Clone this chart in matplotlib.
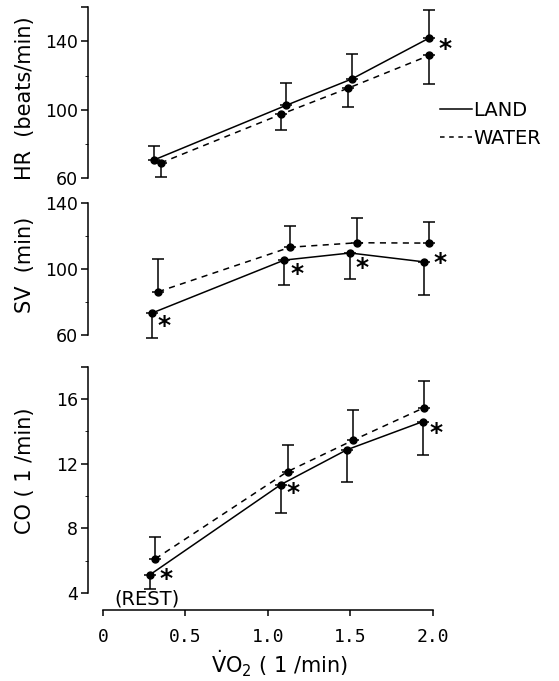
import matplotlib
matplotlib.use('Agg')
import matplotlib.pyplot as plt
from matplotlib.lines import Line2D

plt.rcParams['font.family'] = ['DejaVu Sans']

# heart rate panel
vo2_hr_land = [0.31, 1.11, 1.51, 1.98]
hr_land = [70.6, 102.5, 118.0, 142.0]
hr_land_sd = [7.9, 12.9, 14.4, 16.5]
vo2_hr_water = [0.35, 1.08, 1.49, 1.98]
hr_water = [68.8, 97.3, 112.7, 131.8]
hr_water_sd = [8.4, 9.2, 11.3, 16.8]

# stroke volume panel
vo2_sv_land = [0.30, 1.10, 1.50, 1.95]
sv_land = [73.4, 105.4, 109.7, 104.3]
sv_land_sd = [15.3, 15.3, 15.9, 19.8]
vo2_sv_water = [0.335, 1.136, 1.542, 1.98]
sv_water = [86.2, 113.2, 115.9, 115.7]
sv_water_sd = [19.8, 13.0, 15.1, 12.9]

# cardiac output panel
vo2_co_land = [0.285, 1.08, 1.48, 1.94]
co_land = [5.13, 10.71, 12.86, 14.60]
co_land_sd = [0.88, 1.79, 1.97, 2.05]
vo2_co_water = [0.317, 1.12, 1.52, 1.95]
co_water = [6.11, 11.51, 13.46, 15.47]
co_water_sd = [1.38, 1.66, 1.84, 1.62]

x_ticks = [0, 0.5, 1.0, 1.5, 2.0]
x_labels = ['0', '0.5', '1.0', '1.5', '2.0']

W, H = 559, 681
fig = plt.figure(figsize=(W / 100, H / 100), dpi=100)


def px_axes(top, bottom, left=88, right=470):
    return fig.add_axes([left / W, 1 - bottom / H, (right - left) / W, (bottom - top) / H])


ax1 = px_axes(7.3, 178)
ax2 = px_axes(203, 335)
ax3 = px_axes(366.7, 593)

xmin = -15 / 164.75
xmax = 2.0 + 37.5 / 164.75


def draw(ax, xl, yl, el, xw, yw, ew, land_up):
    ax.plot(xl, yl, color='black', lw=1.1, marker='o', ms=5, zorder=3, clip_on=False)
    ax.plot(xw, yw, color='black', lw=1.1, ls=(0, (4, 3.5)), marker='o', ms=5,
            zorder=3, clip_on=False)
    zero = [0] * len(el)
    land_err = [zero, el] if land_up else [el, zero]
    water_err = [zero, ew] if not land_up else [ew, zero]
    for xs, ys, err in [(xl, yl, land_err), (xw, yw, water_err)]:
        cont = ax.errorbar(xs, ys, yerr=err, fmt='none', ecolor='black',
                           elinewidth=1.1, capsize=4, capthick=1.1)
        for art in cont.lines[1] + cont.lines[2]:
            art.set_clip_on(False)
    ax.set_xlim(xmin, xmax)
    for s in ['top', 'right']:
        ax.spines[s].set_visible(False)
    ax.spines['left'].set_linewidth(1.1)
    ax.tick_params(axis='y', direction='out', length=5, width=1.1, labelsize=12.5, pad=2)
    ax.tick_params(axis='y', which='minor', length=2, width=0.6)


def stars(ax, xs, ys, idx, offsets):
    for i, (dx, dy) in zip(idx, offsets):
        ax.annotate('*', (xs[i], ys[i]), xytext=(dx * 0.72, dy * 0.72),
                    textcoords='offset points', ha='center', va='center_baseline',
                    fontsize=18, fontweight='bold', annotation_clip=False)


# HR
draw(ax1, vo2_hr_land, hr_land, hr_land_sd, vo2_hr_water, hr_water, hr_water_sd, True)
ax1.set_ylim(60, 160)
ax1.set_yticks([60, 100, 140, 160], ['60', '100', '140', ''])
ax1.set_yticks([80, 120], minor=True)
ax1.spines['bottom'].set_visible(False)
ax1.set_xticks([])
ax1.set_ylabel('HR  (beats/min)', fontsize=15)
ax1.yaxis.set_label_coords(-0.14, 0.47)
stars(ax1, vo2_hr_water, hr_water, [3], [(16, 9)])

handles = [Line2D([], [], color='black', lw=1.1),
           Line2D([], [], color='black', lw=1.1, ls=(0, (3, 3)))]
ax1.legend(handles, ['LAND', 'WATER'], loc='upper left', frameon=False,
           bbox_to_anchor=(440 / W, 1 - 101 / H), bbox_transform=fig.transFigure,
           borderpad=0, borderaxespad=0, handlelength=1.65, handletextpad=0.05,
           labelspacing=0.45, fontsize=14)

# SV
draw(ax2, vo2_sv_land, sv_land, sv_land_sd, vo2_sv_water, sv_water, sv_water_sd, False)
ax2.set_ylim(60, 140)
ax2.set_yticks([60, 100, 140])
ax2.set_yticks([80, 120], minor=True)
ax2.spines['bottom'].set_visible(False)
ax2.set_xticks([])
ax2.set_ylabel('SV  (min)', fontsize=15)
ax2.yaxis.set_label_coords(-0.14, 0.53)
stars(ax2, vo2_sv_land, sv_land, [0, 1, 2, 3],
      [(12, -11), (12.5, -11), (11.5, -13), (16, 1)])

# CO
draw(ax3, vo2_co_land, co_land, co_land_sd, vo2_co_water, co_water, co_water_sd, False)
ax3.set_ylim(4, 18)
ax3.set_yticks([4, 8, 12, 16, 18], ['4', '8', '12', '16', ''])
ax3.set_yticks([6, 10, 14], minor=True)
ax3.set_ylabel('CO ( 1 /min)', fontsize=15)
ax3.yaxis.set_label_coords(-0.14, 0.54)
stars(ax3, vo2_co_land, co_land, [0, 1, 3], [(16, -2), (12.5, -6), (13, -9)])
ax3.spines['bottom'].set_position(('outward', 12.2))
ax3.spines['bottom'].set_bounds(0, 2.0)
ax3.spines['bottom'].set_linewidth(1.1)
ax3.set_xticks(x_ticks, x_labels, fontfamily='DejaVu Sans Mono')
ax3.tick_params(axis='x', direction='out', length=4, width=1.1, labelsize=13, pad=9)
ax3.set_xlabel(r'$\dot{\mathrm{V}}\mathrm{O}_2$ ( 1 /min)', fontsize=15, labelpad=2)
ax3.text(0.265, 3.6, '(REST)', ha='center', va='center', fontsize=14, clip_on=False)

fig.savefig('out.png', dpi=100)
